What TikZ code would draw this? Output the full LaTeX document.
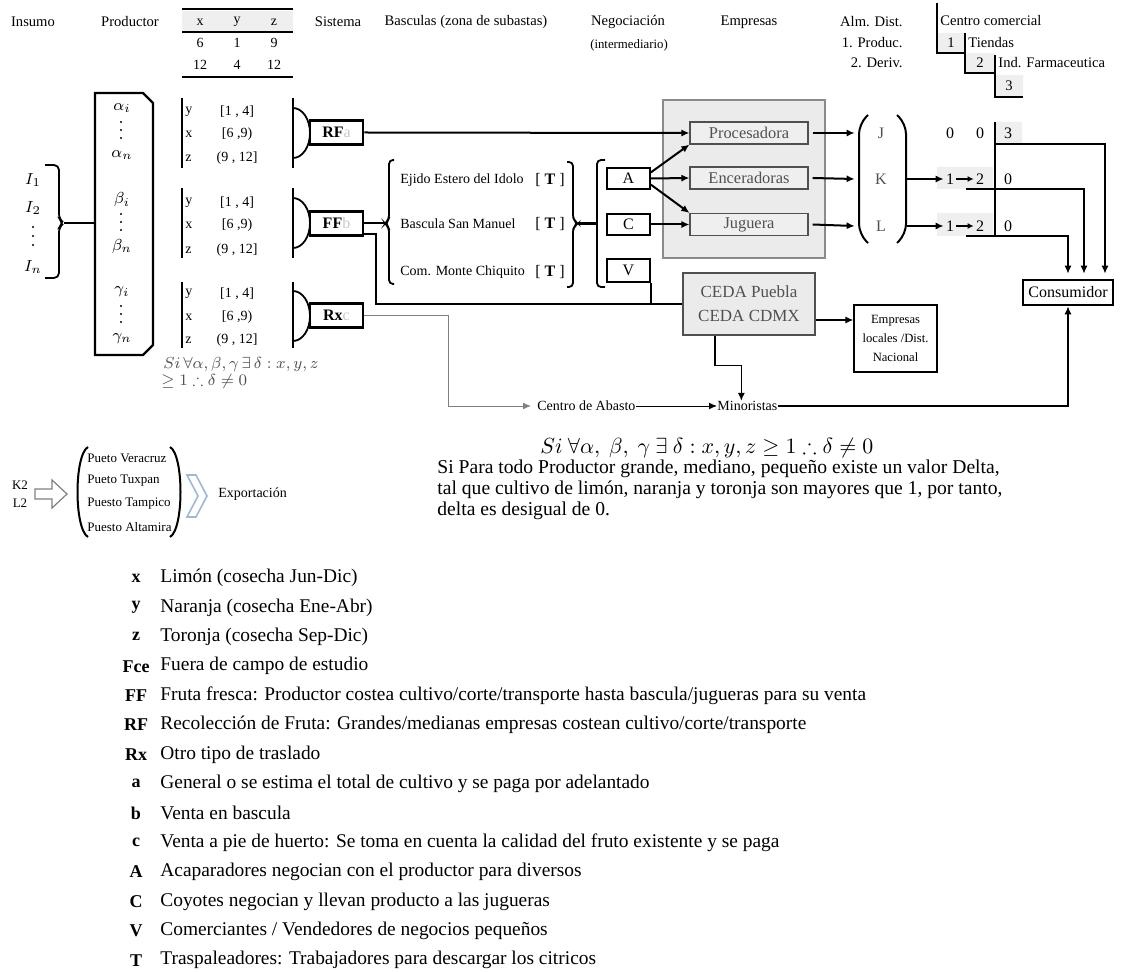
\documentclass[tikz,border=0pt]{standalone}
\usepackage{amsmath,amssymb}
\usepackage{fontspec}
\setmainfont{Liberation Serif}
\usetikzlibrary{arrows.meta, positioning, calc}
\definecolor{panelgray}{HTML}{EBEBEB}
\definecolor{cellgray}{HTML}{EFEFEF}
\definecolor{edgegray}{HTML}{8A8A8A}
\definecolor{inkgray}{HTML}{505050}
\definecolor{fadegray}{HTML}{C8C8C8}
\definecolor{chevblue}{HTML}{9DB9D8}
\tikzset{
  hdr/.style={font=\fontsize{7.3}{8.5}\selectfont, inner sep=0pt},
  tiny/.style={font=\fontsize{6.4}{7.5}\selectfont, inner sep=0pt},
  rng/.style={font=\fontsize{7}{8}\selectfont, inner sep=0pt},
  bas/.style={font=\fontsize{7}{8}\selectfont, inner sep=0pt},
  sym/.style={font=\fontsize{8.5}{9}\selectfont, inner sep=0pt},
  num/.style={font=\fontsize{8}{9}\selectfont, inner sep=1pt},
  fml/.style={font=\fontsize{8}{9}\selectfont, inner sep=0pt, text=inkgray},
  flow/.style={-{Latex[length=4pt, width=3.6pt]}, line width=1pt},
  thinflow/.style={-{Latex[length=4pt, width=3.4pt]}, line width=0.5pt},
  wire/.style={line width=1pt},
  sysbox/.style={draw, line width=1.3pt, minimum width=26.5pt, minimum height=12pt, inner sep=0pt, font=\fontsize{8}{9}\selectfont},
  negbox/.style={draw, line width=0.7pt, minimum width=21.5pt, minimum height=10.5pt, inner sep=0pt, font=\fontsize{8}{9}\selectfont},
  firmbox/.style={draw=inkgray, fill=cellgray, line width=0.6pt, minimum width=59pt, minimum height=11pt, inner sep=0pt, text=inkgray, font=\fontsize{8.2}{9}\selectfont},
  jkl/.style={minimum width=26pt, inner sep=0pt, text=inkgray, font=\fontsize{8}{9}\selectfont},
  expt/.style={font=\fontsize{6.5}{7.5}\selectfont, inner sep=0pt},
  keytxt/.style={font=\fontsize{9}{10}\selectfont\bfseries, inner sep=0pt},
  legtxt/.style={font=\fontsize{9.7}{10}\selectfont, inner sep=0pt, anchor=west}
}
\begin{document}
\begin{tikzpicture}[x=0.5pt, y=-0.5pt]
\useasboundingbox (0,0) rectangle (1122,972);

% cabecera
\node[hdr] (hIns) at (33,22) {Insumo};
\node[hdr] (hPro) at (130,22) {Productor};
\fill[cellgray] (182,11) rectangle (293,32);
\draw[line width=0.8pt] (182,9) -- (293,9);
\draw[line width=1pt] (182,32) -- (293,32);
\draw[line width=0.8pt] (182,77) -- (293,77);
\foreach \c/\xx/\lo/\hi in {x/200/6/12, y/237/1/4, z/274/9/12} {
  \node[rng] (col\c) at (\xx,22) {\c};
  \node[rng] (lo\c) at (\xx,43) {\lo};
  \node[rng] (hi\c) at (\xx,65) {\hi};
}
\node[hdr] (hSis) at (338,22) {Sistema};
\node[hdr] (hBas) at (466,22) {Basculas (zona de subastas)};
\node[hdr] (hNeg) at (628,22) {Negociación};
\node[tiny] (hInt) at (629,45) {(intermediario)};
\node[hdr] (hEmp) at (749,22) {Empresas};
\node[hdr, anchor=east] (hAlm) at (903,22) {Alm. Dist.};
\node[hdr, anchor=east] (hAlm1) at (903,43) {1. Produc.};
\node[hdr, anchor=east] (hAlm2) at (903,63) {2. Deriv.};

% centro comercial (escalera)
\fill[cellgray] (938,33) rectangle (965,53) (965,53) rectangle (995,73) (995,75) rectangle (1023,97);
\draw[line width=0.7pt] (937,3) -- (937,53) -- (965,53);
\draw[line width=0.7pt] (965,33) -- (965,73) -- (995,73);
\draw[line width=0.7pt] (995,55) -- (995,97) -- (1023,97);
\node[hdr, anchor=west] (cc) at (940,21) {Centro comercial};
\node[hdr] (cc1) at (951,43) {1};
\node[hdr, anchor=west] (ccT) at (968,43) {Tiendas};
\node[hdr] (cc2) at (980,63) {2};
\node[hdr, anchor=west] (ccF) at (998,63) {Ind. Farmaceutica};
\node[hdr] (cc3) at (1009,86) {3};

% insumos
\node[sym] (i1) at (33,180) {$I_1$};
\node[sym] (i2) at (33,208) {$I_2$};
\foreach \d in {0,1,2} \fill (33,227+9*\d) circle (0.55pt);
\node[sym] (in) at (33,267) {$I_n$};
\draw[line width=0.9pt, rounded corners=2.5pt] (45,165) -- (59,165) -- (59,219) -- (64,223) -- (59,227) -- (59,278) -- (45,278);
\coordinate (insTip) at (64,223);

% productor
\draw[line width=1.1pt] (95,93) -- (143,93) -- (153,103) -- (153,345) -- (143,355) -- (95,355) -- cycle;
\coordinate (prodW) at (95,223);
\draw[wire] (insTip) -- (prodW);
\foreach \s/\yy in {alpha/108, beta/200, gamma/292} {
  \node[sym] (\s-i) at (122,\yy) {$\csname\s\endcsname_i$};
  \foreach \d in {0,1,2} \fill (121,\yy+14+8*\d) circle (0.55pt);
  \node[sym] (\s-n) at (122,\yy+47) {$\csname\s\endcsname_n$};
}

% rangos
\foreach \g/\tp/\bt/\ra/\rb/\rc in {1/98/168/112/134/158, 2/188/258/203/225/250, 3/282/348/294/317/340} {
  \draw[line width=0.6pt] (182,\tp) -- (182,\bt);
  \node[rng, anchor=west] (y\g) at (185,\ra) {y};
  \node[rng] (iy\g) at (237,\ra) {[1 , 4]};
  \node[rng, anchor=west] (x\g) at (185,\rb) {x};
  \node[rng] (ix\g) at (237,\rb) {[6 ,9)};
  \node[rng, anchor=west] (z\g) at (185,\rc) {z};
  \node[rng] (iz\g) at (237,\rc) {(9 , 12]};
}
\node[fml, anchor=west] (cond1) at (163,365) {$Si\,\forall\alpha,\beta,\gamma\,\exists\,\delta : x,y,z$};
\node[fml, anchor=west] (cond2) at (161,382) {$\geq 1 \therefore \delta \neq 0$};

% sistema
\foreach \g/\tp/\bt/\cy in {1/98/168/133, 2/188/258/223, 3/282/348/316} {
  \draw[line width=0.9pt] (293,\tp) -- (293,\bt);
  \draw[line width=0.9pt] (293,\cy-25) arc[start angle=90, end angle=-90, x radius=8.5pt, y radius=12.5pt];
}
\node[sysbox] (rf) at (336.5,132.5) {\textbf{RF}\textcolor{fadegray}{a}};
\node[sysbox] (ff) at (336.5,223.5) {\textbf{FF}\textcolor{fadegray}{b}};
\node[sysbox] (rx) at (336.5,315.5) {\textbf{Rx}\textcolor{fadegray}{c}};

% basculas
\draw[line width=0.9pt, rounded corners=2pt] (394,160) -- (389,160) -- (389,219.5) -- (385,223.5) -- (389,227.5) -- (389,284) -- (394,284);
\coordinate (basIn) at (385,223.5);
\draw[wire] (ff.east) -- (basIn);
\foreach \n/\yy/\t in {ej/180/Ejido Estero del Idolo, bsm/224/Bascula San Manuel, cmc/272/Com. Monte Chiquito} {
  \node[bas, anchor=west] (\n) at (400,\yy) {\t};
  \node[bas, font=\fontsize{8}{9}\selectfont] (\n T) at (550,\yy) {[ \textbf{T} ]};
}
\draw[line width=0.9pt, rounded corners=2pt] (567,162) -- (573,162) -- (573,219.5) -- (578,223.5) -- (573,227.5) -- (573,287) -- (567,287);
\coordinate (basOut) at (578,223.5);
\draw[line width=0.9pt, rounded corners=2pt] (605,160) -- (597,160) -- (597,287) -- (605,287);
\coordinate (negIn) at (597,223.5);
\draw[line width=1.4pt] (basOut) -- (negIn);

% negociacion
\node[negbox] (A) at (628.5,178.5) {A};
\node[negbox] (C) at (628.5,224.5) {C};
\node[negbox, minimum height=11.5pt] (V) at (628.5,270.5) {V};

% empresas
\filldraw[draw=edgegray, fill=panelgray, line width=0.7pt] (663,100) rectangle (825,258);
\node[firmbox] (proc) at (749,133) {Procesadora};
\node[firmbox] (ence) at (749,178) {Enceradoras};
\node[firmbox] (jug) at (749,224.5) {Juguera};
\draw[flow] (rf.east) -- (proc.west);
\draw[flow] ([yshift=3pt]A.east) -- (proc.south west);
\draw[flow] (A.east) -- (ence.west);
\draw[flow] ([yshift=-3pt]A.east) -- (jug.north west);
\draw[flow] (C.east) -- (jug.west);

% CEDA
\node[draw=inkgray, fill=panelgray, line width=0.6pt, minimum width=66pt, minimum height=31pt, align=center, inner sep=0pt, text=inkgray, font=\fontsize{8.5}{12}\selectfont] (ceda) at (749,304) {CEDA Puebla\\CEDA CDMX};
\node[draw, line width=0.6pt, minimum width=41.5pt, minimum height=33.5pt, align=center, inner sep=0pt, font=\fontsize{6.3}{9.3}\selectfont] (loc) at (895.5,338.5) {Empresas\\locales /Dist.\\Nacional};
\draw[wire] ([yshift=-5.5pt]ff.east) -- ++(12,0) |- (ceda.west);
\draw[wire] (V.south east) -- (V.south east |- ceda.west);
\draw[flow] ([yshift=-8pt]ceda.east) -- ([yshift=-8pt]ceda.east -| loc.west);

% almacen / distribucion
\node[jkl] (J) at (881,133) {J};
\node[jkl] (K) at (881,179) {K};
\node[jkl] (L) at (881,226) {L};
\draw[line width=1pt, rounded corners=5pt] (868,115) -- (859,124) -- (859,234) -- (868,243);
\draw[line width=1pt, rounded corners=5pt] (897,115) -- (906,124) -- (906,234) -- (897,243);
\draw[flow] ([xshift=2pt]proc.east) -- (J.west);
\draw[flow] ([xshift=2pt]ence.east) -- (K.west);
\draw[flow] ([xshift=2pt]jug.east) -- (L.west);

\fill[cellgray] (937,167) rectangle (993,189) (937,213) rectangle (993,236) (995,122) rectangle (1022,145);
\foreach \r/\yy/\a/\b/\c in {j/133/0/0/3, k/179/1/2/0, l/226/1/2/0} {
  \node[num] (\r1) at (950,\yy) {\a};
  \node[num] (\r2) at (980,\yy) {\b};
  \node[num] (\r3) at (1008,\yy) {\c};
}
\draw[-{Latex[length=3pt,width=3pt]}, line width=0.8pt] (k1) -- (k2);
\draw[-{Latex[length=3pt,width=3pt]}, line width=0.8pt] (l1) -- (l2);
\draw[line width=0.8pt] (995,122) -- (995,236);
\draw[flow] (K.east) -- (k1.west);
\draw[flow] (L.east) -- (l1.west);

% consumidor
\node[draw, line width=1.3pt, minimum width=45pt, minimum height=12.5pt, inner sep=0pt, font=\fontsize{8}{9}\selectfont] (cons) at (1068,292.5) {Consumidor};
\coordinate (jOut) at (995,144);
\coordinate (kOut) at (966,189);
\coordinate (lOut) at (966,236);
\draw[flow] (jOut) -| ([xshift=18.5pt, yshift=2.5pt]cons.north);
\draw[flow] (kOut) -| ([xshift=8pt, yshift=2.5pt]cons.north);
\draw[flow] (lOut) -| ([yshift=2.5pt]cons.north);

% abasto y minoristas
\node[bas, anchor=west] (abasto) at (537,406) {Centro de Abasto};
\node[bas, anchor=west] (mino) at (717,406) {Minoristas};
\draw[thinflow, draw=gray, shorten >=3pt] (rx.east) -- ++(84,0) |- (abasto.west);
\draw[thinflow] (abasto.east) -- (mino.west);
\draw[flow, line width=0.8pt] ([xshift=-17pt]ceda.south) -- ++(0,30) -| ([xshift=-3pt]mino.north);
\draw[flow, line width=0.8pt] (mino.east) -| (cons.south);

% exportacion
\node[expt] (k2) at (20,485) {K2};
\node[expt] (l2) at (20,503) {L2};
\draw[gray, line width=0.6pt] (35,489) -- (52,489) -- (52,480) -- (67,494) -- (52,508) -- (52,499) -- (35,499) -- cycle;
\draw[line width=1pt] (88,447) .. controls (74,455) and (74,529) .. (88,537);
\draw[line width=1pt] (170,447) .. controls (184,455) and (184,529) .. (170,537);
\node[expt, anchor=west] (p1) at (87,458) {Pueto Veracruz};
\node[expt, anchor=west] (p2) at (87,481) {Pueto Tuxpan};
\node[expt, anchor=west] (p3) at (87,504) {Puesto Tampico};
\node[expt, anchor=west] (p4) at (87,527) {Puesto Altamira};
\draw[chevblue, line width=0.8pt] (187,475) -- (196,475) -- (207,496) -- (196,517) -- (187,517) -- (198,496) -- cycle;
\node[expt, font=\fontsize{7}{8}\selectfont, anchor=west] (expo) at (218,494) {Exportación};

% condicion
\node[anchor=west, inner sep=0pt, font=\fontsize{10.5}{12}\selectfont] (cond) at (540,448) {$Si\ \forall\alpha,\ \beta,\ \gamma\ \exists\ \delta : x, y, z \geq 1 \therefore \delta \neq 0$};
\node[anchor=north west, align=left, inner sep=0pt, font=\fontsize{9.8}{10.5}\selectfont] (expl) at (437,459) {Si Para todo Productor grande, mediano, pequeño existe un valor Delta,\\tal que cultivo de limón, naranja y toronja son mayores que 1, por tanto,\\delta es desigual de 0.};

% leyenda
\foreach \k/\t [count=\i from 0] in {
  x/{Limón (cosecha Jun-Dic)},
  y/{Naranja (cosecha Ene-Abr)},
  z/{Toronja (cosecha Sep-Dic)},
  Fce/{Fuera de campo de estudio},
  FF/{Fruta fresca: Productor costea cultivo/corte/transporte hasta bascula/jugueras para su venta},
  RF/{Recolección de Fruta: Grandes/medianas empresas costean cultivo/corte/transporte},
  Rx/{Otro tipo de traslado},
  a/{General o se estima el total de cultivo y se paga por adelantado},
  b/{Venta en bascula},
  c/{Venta a pie de huerto: Se toma en cuenta la calidad del fruto existente y se paga},
  A/{Acaparadores negocian con el productor para diversos},
  C/{Coyotes negocian y llevan producto a las jugueras},
  V/{Comerciantes / Vendedores de negocios pequeños},
  T/{Traspaleadores: Trabajadores para descargar los citricos}} {
  \node[keytxt] (key\i) at (136,578+29.4*\i) {\k};
  \node[legtxt] (leg\i) at (160,578+29.4*\i) {\t};
}
\end{tikzpicture}
\end{document}
